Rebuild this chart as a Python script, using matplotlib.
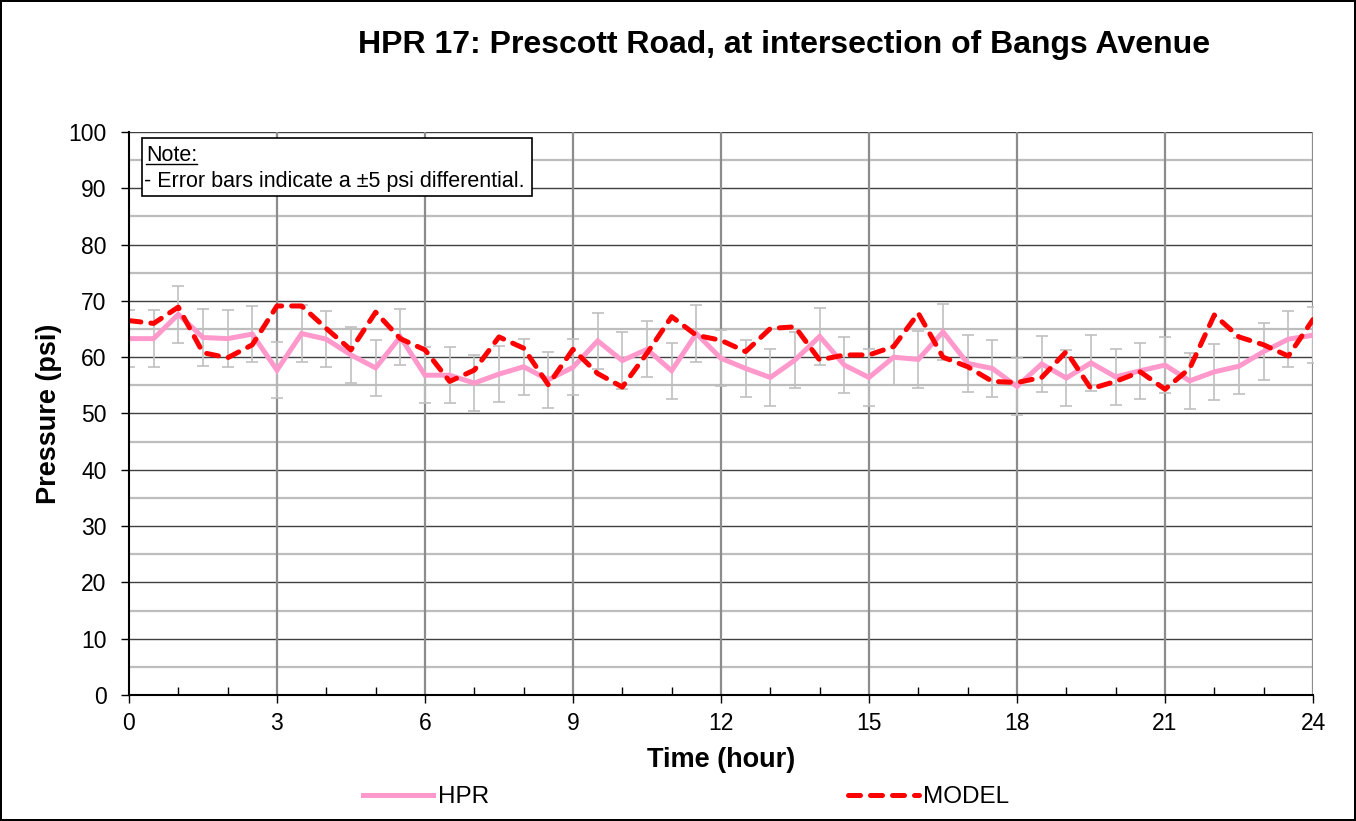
import matplotlib
matplotlib.use("Agg")
import matplotlib.pyplot as plt
from matplotlib.lines import Line2D
from matplotlib.patches import Rectangle
import numpy as np

plt.rcParams['font.family'] = ['Liberation Sans', 'DejaVu Sans']

# time in hours (half-hour steps)
hours = np.arange(0, 24.5, 0.5)
hpr = [63.3, 63.3, 67.6, 63.5, 63.3, 64.1, 57.7, 64.2, 63.2, 60.4,
       58.1, 63.6, 56.8, 56.8, 55.4, 57.0, 58.3, 56.0, 58.2, 62.9,
       59.4, 61.4, 57.6, 64.2, 59.8, 58.0, 56.4, 59.5, 63.7, 58.6,
       56.4, 60.0, 59.6, 64.5, 58.9, 58.0, 54.8, 58.8, 56.3, 59.0,
       56.5, 57.6, 58.6, 55.8, 57.4, 58.4, 61.0, 63.2, 63.9]
model = [66.5, 66.0, 68.9, 60.8, 59.9, 62.2, 69.1, 69.1, 65.1, 61.3,
         68.0, 63.3, 61.3, 55.7, 57.7, 63.6, 61.6, 55.1, 61.4, 57.1,
         54.7, 60.7, 67.2, 63.9, 63.0, 61.0, 65.1, 65.4, 59.5, 60.4,
         60.4, 61.9, 67.8, 60.0, 58.3, 55.7, 55.5, 56.4, 61.0, 54.4,
         55.7, 57.4, 54.3, 58.0, 67.5, 63.6, 62.2, 60.2, 66.7]
err = 5

DASH = (0, (2.4, 2.0))

fig = plt.figure(figsize=(13.56, 8.21), dpi=100)
fig.patch.set_edgecolor('black')
fig.patch.set_linewidth(1.5)
ax = fig.add_axes([0.0951, 0.1535, 0.8732, 0.6857])

# grid
for v in np.arange(5, 100, 10):
    ax.axhline(v, color='#BDBDBD', lw=1.6, zorder=0)
for v in np.arange(10, 101, 10):
    ax.axhline(v, color='#404040', lw=1.0, zorder=0.5)
for v in np.arange(3, 25, 3):
    ax.axvline(v, color='#8C8C8C', lw=1.6, zorder=0.6)

ax.errorbar(hours, hpr, yerr=err, fmt='none', ecolor='#C0C0C0',
            elinewidth=1.2, capsize=4.5, capthick=1.2, zorder=2)
ax.plot(hours, hpr, color='#FF99CC', lw=3.6, zorder=3,
        solid_joinstyle='miter', label='HPR')
ax.plot(hours, model, color='#FF0000', lw=3.6, zorder=4,
        linestyle=DASH, dash_capstyle='round', label='MODEL')

ax.set_xlim(0, 24)
ax.set_ylim(0, 100)
ax.set_xticks(np.arange(0, 25, 3))
ax.set_xticks(np.arange(0, 25, 1), minor=True)
ax.set_yticks(np.arange(0, 101, 10))
ax.tick_params(axis='x', which='major', direction='out', length=6, width=1,
               labelsize=16.5, pad=6)
ax.tick_params(axis='x', which='minor', direction='in', length=6, width=1)
ax.tick_params(axis='y', direction='out', length=6, width=1, labelsize=16.5,
               pad=10)
for s in ['top', 'right']:
    ax.spines[s].set_visible(False)
for s in ['left', 'bottom']:
    ax.spines[s].set_linewidth(1.5)
    ax.spines[s].set_zorder(5)

ax.set_xlabel('Time (hour)', fontsize=19.5, fontweight='bold')
ax.set_ylabel('Pressure (psi)', fontsize=19.5, fontweight='bold')
ax.xaxis.set_label_coords(0.5, -0.092)
ax.yaxis.set_label_coords(-0.0565, 0.5)

fig.text(0.578, 0.945, 'HPR 17: Prescott Road, at intersection of Bangs Avenue',
         fontsize=23, fontweight='bold', ha='center', va='center')

# note box
ax.add_patch(Rectangle((0.011, 0.8863), 0.3294, 0.103, transform=ax.transAxes,
                       facecolor='white', edgecolor='black', lw=1.2, zorder=6))
t_note = ax.text(0.0145, 0.958, 'Note:', transform=ax.transAxes, fontsize=15.5,
                 va='center', ha='left', zorder=7)
ax.text(0.0125, 0.912, '- Error bars indicate a \u00b15 psi differential.',
        transform=ax.transAxes, fontsize=15.5, va='center', ha='left', zorder=7)
fig.canvas.draw()
bb = t_note.get_window_extent().transformed(ax.transAxes.inverted())
ax.add_line(Line2D([bb.x0, bb.x1], [bb.y0 + 0.004, bb.y0 + 0.004],
                   transform=ax.transAxes, color='black', lw=1, zorder=7))

# legend
h1 = Line2D([], [], color='#FF99CC', lw=3.6)
h2 = Line2D([], [], color='#FF0000', lw=3.6, linestyle=DASH,
            dash_capstyle='round')
fig.legend([h1], ['HPR'], loc='center', bbox_to_anchor=(0.314, 0.029),
           frameon=False, fontsize=17.5, handlelength=2.9, handletextpad=0.2)
fig.legend([h2], ['MODEL'], loc='center', bbox_to_anchor=(0.685, 0.029),
           frameon=False, fontsize=17.5, handlelength=2.9, handletextpad=0.2)

fig.savefig('out.png', dpi=100, edgecolor=fig.get_edgecolor())
